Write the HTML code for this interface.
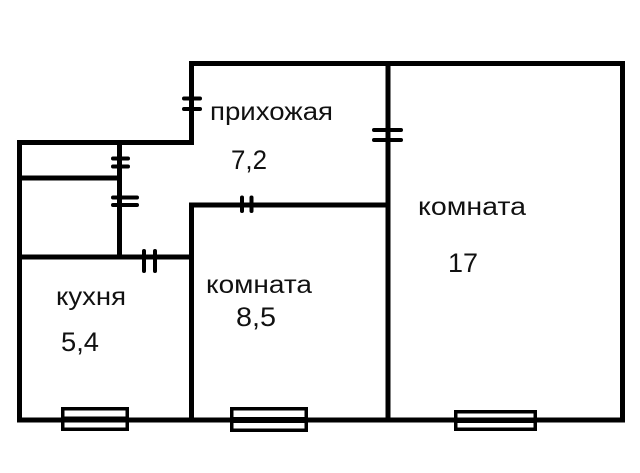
<!DOCTYPE html>
<html>
<head>
<meta charset="utf-8">
<style>
  html, body { margin: 0; padding: 0; background: #fff; }
  svg { display: block; }
  text { font-family: "Liberation Sans", "DejaVu Sans", sans-serif; font-size: 25px; fill: #111; }
  text.n { font-size: 27px; }
</style>
</head>
<body>
<svg width="640" height="473" viewBox="0 0 640 473" xmlns="http://www.w3.org/2000/svg">
  <rect x="0" y="0" width="640" height="473" fill="#fff"/>
  <g stroke="#000" stroke-width="5" stroke-linecap="square" fill="none">
    <line x1="191.5" y1="63.5" x2="622.5" y2="63.5"/>
    <line x1="622.5" y1="63.5" x2="622.5" y2="420"/>
    <line x1="19.5" y1="420" x2="622.5" y2="420"/>
    <line x1="19.5" y1="142.5" x2="19.5" y2="420"/>
    <line x1="191.5" y1="63.5" x2="191.5" y2="142.5"/>
    <line x1="19.5" y1="142.5" x2="191.5" y2="142.5"/>
    <line x1="388" y1="63.5" x2="388" y2="420"/>
    <line x1="19.5" y1="178" x2="117" y2="178"/>
    <line x1="119.5" y1="142.5" x2="119.5" y2="257"/>
    <line x1="19.5" y1="257" x2="191.5" y2="257"/>
    <line x1="191.5" y1="205" x2="388" y2="205"/>
    <line x1="191.5" y1="205" x2="191.5" y2="420"/>
  </g>
  <g stroke="#000" stroke-width="4" stroke-linecap="round" fill="none">
    <line x1="184" y1="98.5" x2="200" y2="98.5"/>
    <line x1="184" y1="109" x2="200" y2="109"/>
    <line x1="113" y1="158.5" x2="128" y2="158.5"/>
    <line x1="113" y1="166.5" x2="128" y2="166.5"/>
    <line x1="113" y1="197.5" x2="137" y2="197.5"/>
    <line x1="113" y1="205" x2="137" y2="205"/>
    <line x1="242" y1="197.5" x2="242" y2="211"/>
    <line x1="251.5" y1="197.5" x2="251.5" y2="211"/>
    <line x1="144" y1="251" x2="144" y2="271"/>
    <line x1="155" y1="251" x2="155" y2="271"/>
    <line x1="374" y1="130" x2="401" y2="130"/>
    <line x1="374" y1="140" x2="401" y2="140"/>
  </g>
  <g>
    <rect x="61" y="407" width="68" height="24" fill="#000"/>
    <rect x="64.5" y="410.5" width="61" height="6" fill="#fff"/>
    <rect x="64.5" y="422.5" width="61" height="5" fill="#fff"/>

    <rect x="230" y="407" width="78" height="25" fill="#000"/>
    <rect x="233.5" y="410.5" width="71" height="6.5" fill="#fff"/>
    <rect x="233.5" y="423" width="71" height="5.5" fill="#fff"/>

    <rect x="454" y="410" width="83" height="21" fill="#000"/>
    <rect x="457.5" y="413.5" width="76" height="4" fill="#fff"/>
    <rect x="457.5" y="423" width="76" height="4.5" fill="#fff"/>
  </g>
  <text x="210" y="120" textLength="123" lengthAdjust="spacingAndGlyphs">прихожая</text>
  <text class="n" x="231" y="169" textLength="36" lengthAdjust="spacingAndGlyphs">7,2</text>
  <text x="418" y="215" textLength="108" lengthAdjust="spacingAndGlyphs">комната</text>
  <text class="n" x="448" y="272" textLength="30" lengthAdjust="spacingAndGlyphs">17</text>
  <text x="56" y="305" textLength="70" lengthAdjust="spacingAndGlyphs">кухня</text>
  <text class="n" x="61" y="351" textLength="38" lengthAdjust="spacingAndGlyphs">5,4</text>
  <text x="206" y="293" textLength="106" lengthAdjust="spacingAndGlyphs">комната</text>
  <text class="n" x="236" y="326" textLength="40" lengthAdjust="spacingAndGlyphs">8,5</text>
</svg>
</body>
</html>
